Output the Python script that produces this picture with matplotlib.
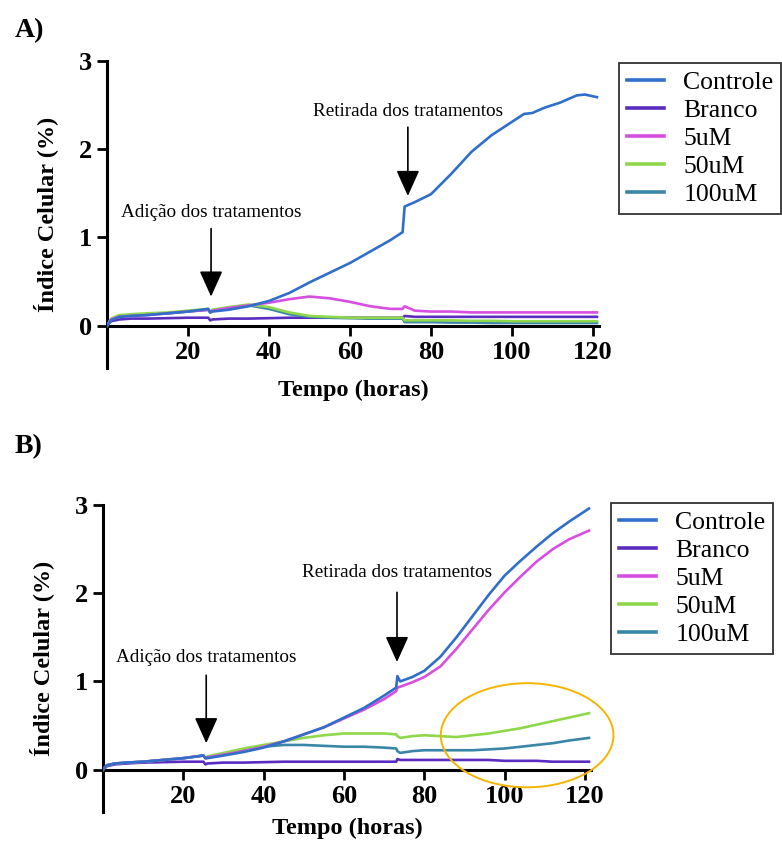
import matplotlib
matplotlib.use("Agg")
import matplotlib.pyplot as plt
from matplotlib.patches import Ellipse

plt.rcParams['font.family'] = ['Liberation Serif', 'DejaVu Serif']

# series names and colours (legend order)
series = ['Controle', 'Branco', '5uM', '50uM', '100uM']
colors = ['#2f6fca', '#5a2cbf', '#d64fe0', '#8fd84c', '#3a86a8']

# ---- A) ----
t_a = [0, 1, 3, 6, 10, 15, 20, 25, 25.5, 26, 30, 35, 40, 45, 50, 55, 60, 65, 70,
       73, 73.5, 76, 80, 85, 90, 95, 100, 103, 105, 108, 112, 116, 118, 121]
controle_a = [0, 0.06, 0.10, 0.11, 0.12, 0.14, 0.16, 0.19, 0.15, 0.16, 0.18, 0.22, 0.28, 0.37,
              0.49, 0.60, 0.71, 0.84, 0.97, 1.06, 1.35, 1.40, 1.49, 1.72, 1.97, 2.16, 2.31, 2.40,
              2.41, 2.47, 2.53, 2.61, 2.62, 2.59]
branco_a = [0, 0.05, 0.07, 0.08, 0.08, 0.085, 0.09, 0.09, 0.06, 0.07, 0.08, 0.08, 0.085, 0.09,
            0.09, 0.09, 0.09, 0.09, 0.09, 0.09, 0.11, 0.10, 0.10, 0.10, 0.10, 0.10, 0.10, 0.10,
            0.10, 0.10, 0.10, 0.10, 0.10, 0.10]
um5_a = [0, 0.07, 0.10, 0.11, 0.12, 0.14, 0.16, 0.18, 0.15, 0.17, 0.20, 0.23, 0.26, 0.30,
         0.33, 0.31, 0.27, 0.22, 0.19, 0.19, 0.22, 0.17, 0.16, 0.16, 0.15, 0.15, 0.15, 0.15,
         0.15, 0.15, 0.15, 0.15, 0.15, 0.15]
um50_a = [0, 0.08, 0.12, 0.13, 0.14, 0.15, 0.17, 0.19, 0.16, 0.18, 0.21, 0.24, 0.21, 0.15,
          0.11, 0.10, 0.09, 0.09, 0.09, 0.09, 0.06, 0.06, 0.06, 0.06, 0.055, 0.055, 0.05, 0.05,
          0.05, 0.05, 0.05, 0.05, 0.05, 0.05]
um100_a = [0, 0.07, 0.11, 0.12, 0.13, 0.14, 0.16, 0.18, 0.15, 0.17, 0.20, 0.23, 0.19, 0.13,
           0.10, 0.09, 0.085, 0.08, 0.08, 0.08, 0.04, 0.04, 0.04, 0.035, 0.035, 0.03, 0.03, 0.03,
           0.03, 0.03, 0.03, 0.03, 0.03, 0.03]

# ---- B) ----
t_b = [0, 1, 3, 6, 10, 15, 20, 25, 25.5, 26, 30, 35, 40, 45, 50, 55, 60, 65, 70,
       73, 73.3, 74, 77, 80, 84, 88, 92, 96, 100, 104, 108, 112, 116, 121]
controle_b = [0, 0.05, 0.07, 0.08, 0.09, 0.11, 0.13, 0.16, 0.13, 0.13, 0.16, 0.20, 0.25, 0.32,
              0.40, 0.48, 0.59, 0.70, 0.84, 0.93, 1.06, 1.00, 1.05, 1.12, 1.28, 1.50, 1.74, 1.98,
              2.20, 2.37, 2.53, 2.68, 2.81, 2.96]
branco_b = [0, 0.04, 0.06, 0.07, 0.08, 0.085, 0.09, 0.09, 0.06, 0.07, 0.08, 0.08, 0.085, 0.09,
            0.09, 0.09, 0.09, 0.09, 0.09, 0.09, 0.12, 0.11, 0.11, 0.11, 0.11, 0.11, 0.11, 0.11,
            0.10, 0.10, 0.10, 0.09, 0.09, 0.09]
um5_b = [0, 0.05, 0.07, 0.08, 0.09, 0.11, 0.13, 0.16, 0.13, 0.14, 0.17, 0.21, 0.26, 0.32,
         0.40, 0.48, 0.58, 0.68, 0.80, 0.89, 0.93, 0.94, 0.99, 1.05, 1.17, 1.37, 1.59, 1.81,
         2.01, 2.19, 2.36, 2.50, 2.61, 2.71]
um50_b = [0, 0.05, 0.07, 0.08, 0.09, 0.11, 0.13, 0.16, 0.13, 0.15, 0.19, 0.24, 0.28, 0.32,
          0.36, 0.39, 0.41, 0.41, 0.41, 0.40, 0.38, 0.36, 0.38, 0.39, 0.38, 0.37, 0.39, 0.41,
          0.44, 0.47, 0.51, 0.55, 0.59, 0.64]
um100_b = [0, 0.05, 0.07, 0.08, 0.09, 0.11, 0.13, 0.16, 0.13, 0.14, 0.18, 0.23, 0.26, 0.28,
           0.28, 0.27, 0.26, 0.26, 0.25, 0.24, 0.21, 0.19, 0.21, 0.22, 0.22, 0.22, 0.22, 0.23,
           0.24, 0.26, 0.28, 0.30, 0.33, 0.36]

xticks = [20, 40, 60, 80, 100, 120]
yticks = [0, 1, 2, 3]


def draw_panel(ax, t, curves, arrows, leg_anchor, xlab_y):
    zorders = [6, 2, 5, 4, 3]
    for name, y, c, z in zip(series, curves, colors, zorders):
        ax.plot(t, y, color=c, lw=1.9, label=name, zorder=z, solid_joinstyle='round')

    ax.set_xlim(0, 121.5)
    ax.set_ylim(-0.48, 3.0)
    for s in ['top', 'right']:
        ax.spines[s].set_visible(False)
    ax.spines['bottom'].set_position(('data', 0))
    ax.spines['left'].set_linewidth(2.2)
    ax.spines['bottom'].set_linewidth(2.2)
    ax.set_xticks(xticks)
    ax.set_yticks(yticks)
    ax.tick_params(direction='out', length=7, width=2, labelsize=19, pad=4)
    for lab in ax.get_xticklabels() + ax.get_yticklabels():
        lab.set_fontweight('bold')

    ax.set_ylabel('Índice Celular (%)', fontsize=17.5, fontweight='bold')
    ax.yaxis.set_label_coords(-0.10, 0.5)
    ax.set_xlabel('Tempo (horas)', fontsize=17.5, fontweight='bold')
    ax.xaxis.label.set_va('center')
    ax.xaxis.set_label_coords(0.5, xlab_y)

    for txt, x, y0, y1, ytxt in arrows:
        ax.annotate('', xy=(x, y1), xytext=(x, y0),
                    arrowprops=dict(arrowstyle='-|>,head_length=1.0,head_width=0.45',
                                    mutation_scale=16, color='black', lw=1.2,
                                    shrinkA=0, shrinkB=0))
        ax.text(x, ytxt, txt, ha='center', va='center', fontsize=13.8)

    leg = ax.legend(loc='upper left', bbox_to_anchor=leg_anchor,
                    bbox_transform=ax.figure.transFigure, fontsize=18.5,
                    frameon=True, fancybox=False, handlelength=1.45,
                    handletextpad=0.75, labelspacing=0.2, borderpad=0.3,
                    borderaxespad=0)
    leg.get_frame().set_edgecolor('black')
    leg.get_frame().set_linewidth(1.3)
    for h in leg.get_lines():
        h.set_linewidth(2.6)


fig = plt.figure(figsize=(7.82, 8.43), dpi=100)

ax_a = fig.add_axes([107 / 782, 1 - 368 / 843, 492 / 782, 307 / 843])
draw_panel(ax_a, t_a, [controle_a, branco_a, um5_a, um50_a, um100_a],
           [('Adição dos tratamentos', 25.7, 1.10, 0.33, 1.28),
            ('Retirada dos tratamentos', 74.3, 2.25, 1.47, 2.43)],
           (619 / 782, 1 - 63 / 843), -0.072)

ax_b = fig.add_axes([103 / 782, 1 - 812 / 843, 488 / 782, 307 / 843])
draw_panel(ax_b, t_b, [controle_b, branco_b, um5_b, um50_b, um100_b],
           [('Adição dos tratamentos', 25.7, 1.07, 0.30, 1.27),
            ('Retirada dos tratamentos', 73.2, 2.01, 1.22, 2.24)],
           (611 / 782, 1 - 503 / 843), -0.055)
ax_b.add_patch(Ellipse((105.6, 0.39), width=43, height=1.18, fill=False,
                       edgecolor='#f5b400', lw=1.4, clip_on=False, zorder=7))

fig.text(15 / 782, 1 - 31 / 843, 'A)', fontsize=20, fontweight='bold', va='center')
fig.text(15 / 782, 1 - 447 / 843, 'B)', fontsize=20, fontweight='bold', va='center')

fig.savefig('out.png', dpi=100)
